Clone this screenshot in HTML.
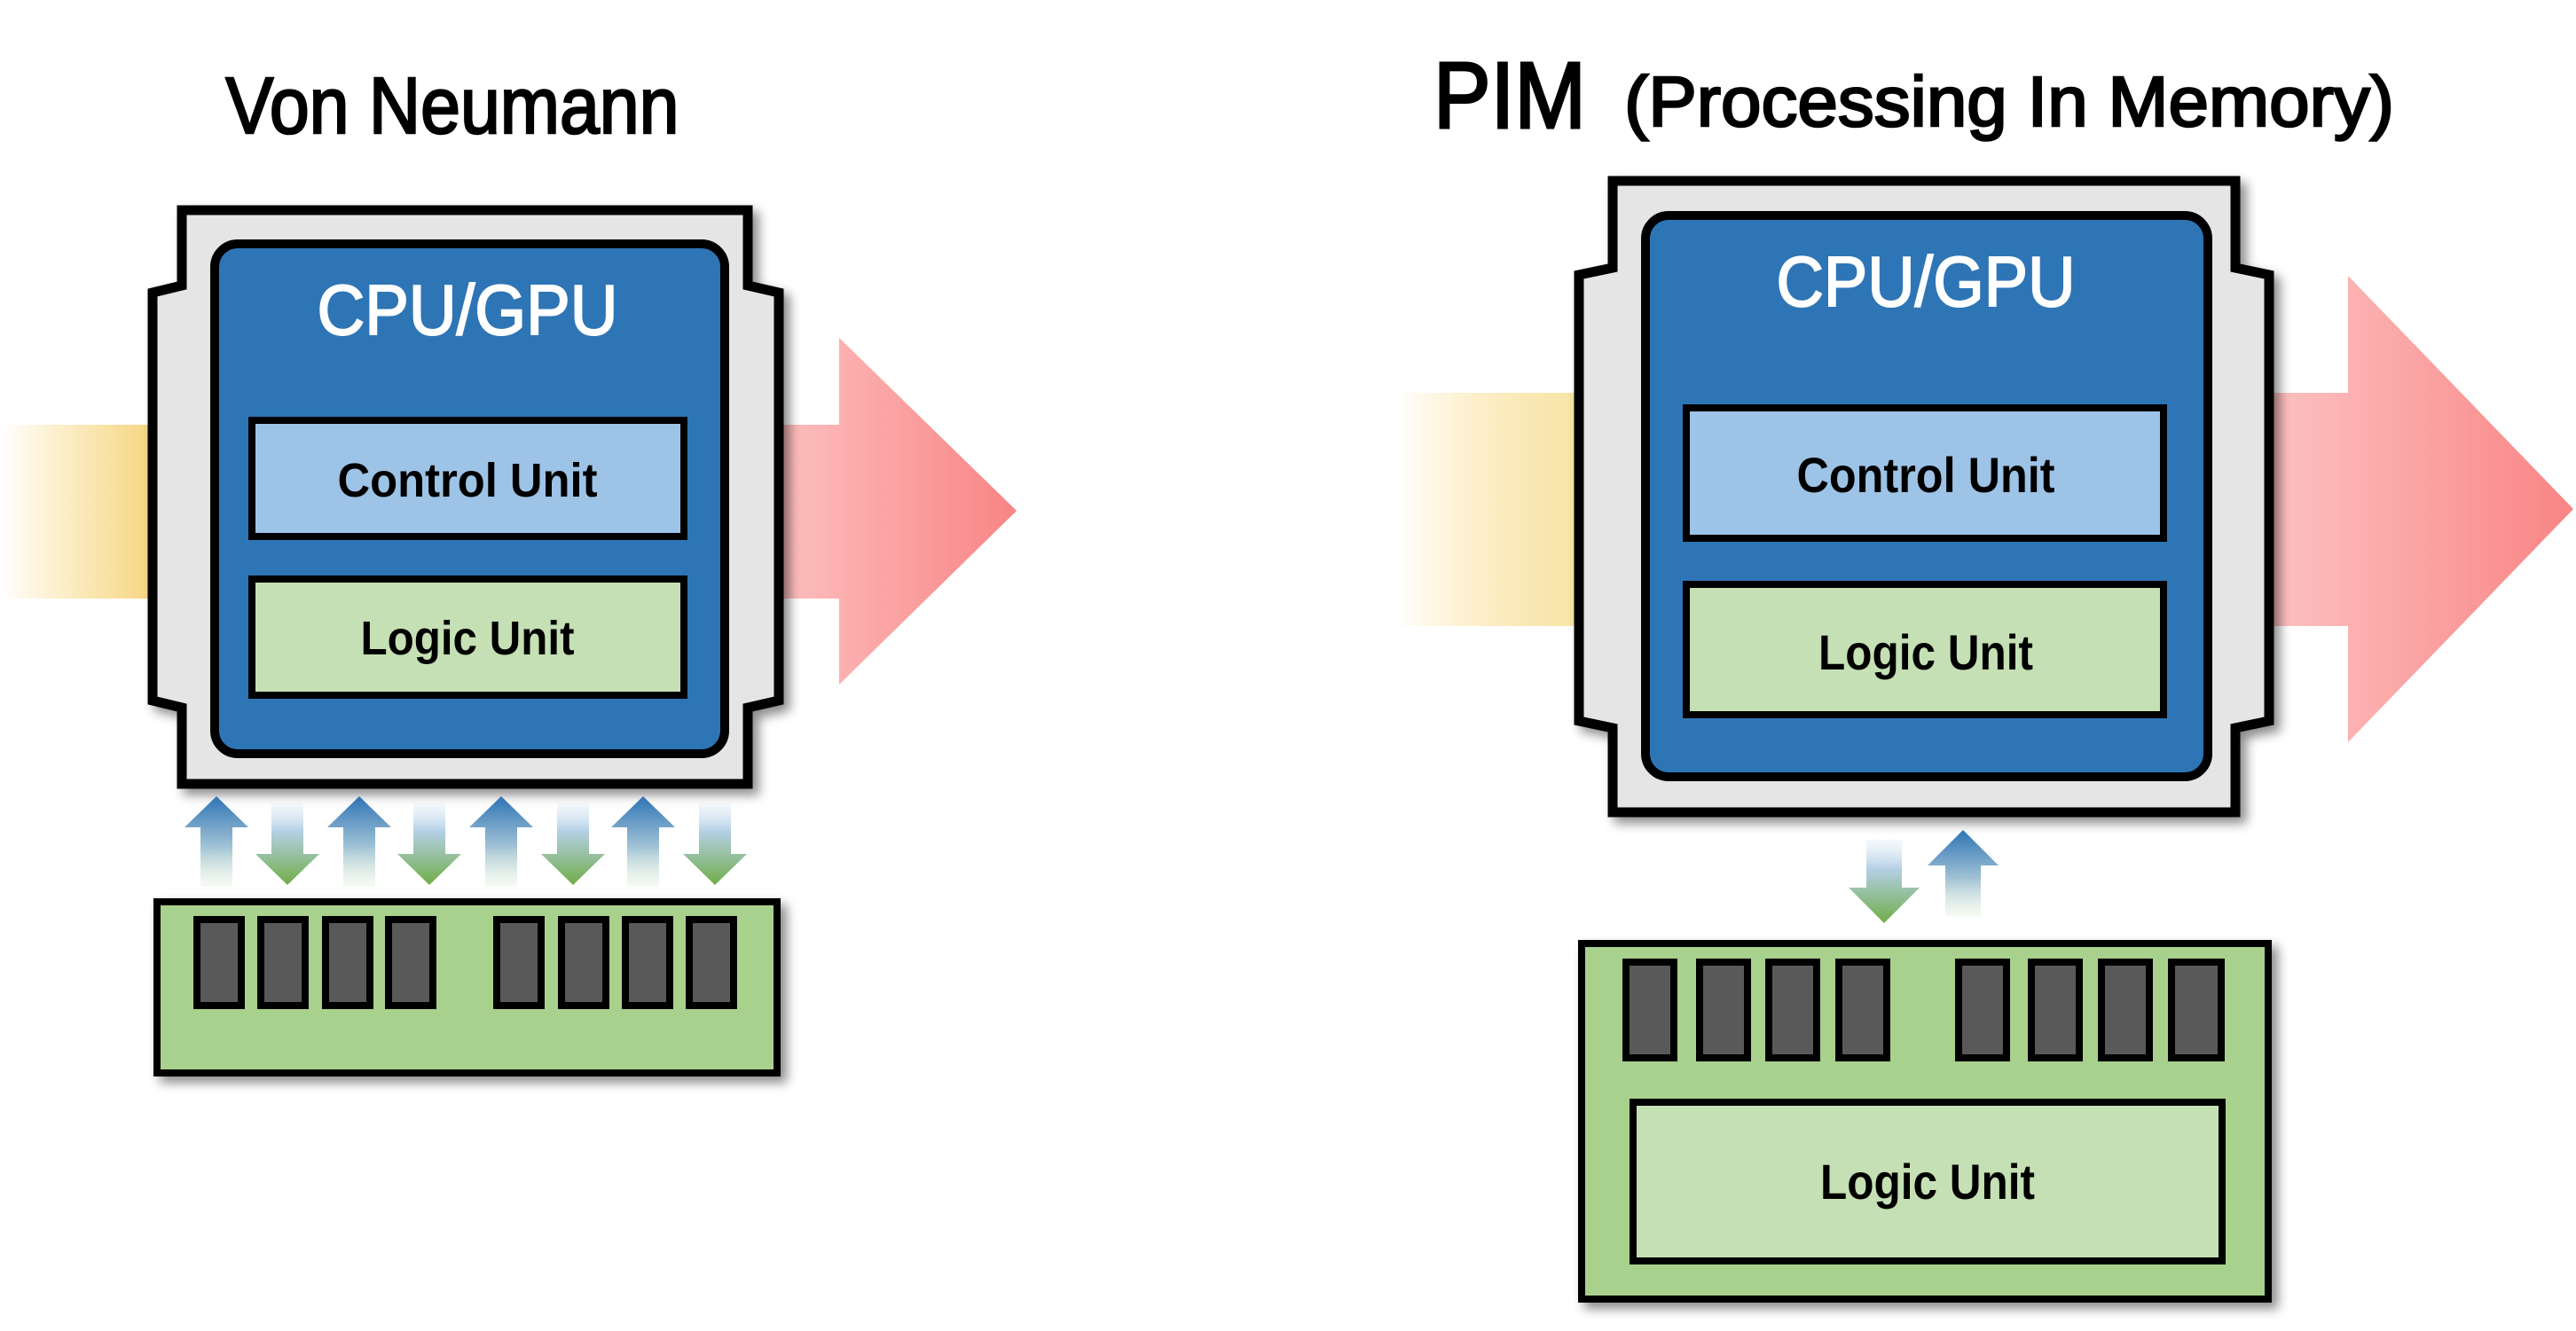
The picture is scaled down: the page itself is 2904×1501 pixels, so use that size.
<!DOCTYPE html>
<html><head><meta charset="utf-8"><style>
html,body{margin:0;padding:0;background:#fff;}
svg{display:block;}
text{font-family:"Liberation Sans",sans-serif;}
</style></head><body>
<svg width="2904" height="1501" viewBox="0 0 2904 1501" xmlns="http://www.w3.org/2000/svg">
<defs>
<linearGradient id="yl" x1="0" x2="1" y1="0" y2="0"><stop offset="0" stop-color="#f7d26e" stop-opacity="0"/><stop offset="1" stop-color="#f5d47c"/></linearGradient>
<linearGradient id="yr" x1="0" x2="1" y1="0" y2="0"><stop offset="0" stop-color="#f7d26e" stop-opacity="0"/><stop offset="1" stop-color="#f8e4a6"/></linearGradient>
<linearGradient id="rd" x1="0" x2="1" y1="0" y2="0"><stop offset="0" stop-color="#fdc3c3"/><stop offset="1" stop-color="#f98484"/></linearGradient>
<linearGradient id="up" x1="0" x2="0" y1="0" y2="1"><stop offset="0" stop-color="#2e74b5"/><stop offset="0.55" stop-color="#9fc1d5"/><stop offset="1" stop-color="#e2f0d9" stop-opacity="0.3"/></linearGradient>
<linearGradient id="dn" x1="0" x2="0" y1="0" y2="1"><stop offset="0" stop-color="#deebf7" stop-opacity="0.3"/><stop offset="0.35" stop-color="#b4d0e6"/><stop offset="1" stop-color="#70ad47"/></linearGradient>
<filter id="sh" x="-10%" y="-10%" width="125%" height="125%"><feDropShadow dx="7" dy="7" stdDeviation="6" flood-color="#000" flood-opacity="0.45"/></filter>
</defs>

<!-- LEFT -->
<text x="510" y="150" font-size="90" text-anchor="middle" textLength="511" lengthAdjust="spacingAndGlyphs" stroke="#000" stroke-width="2.5">Von Neumann</text>
<rect x="0" y="479" width="180" height="196" fill="url(#yl)"/>
<path d="M860 479 H946 V381 L1146 576 L946 772 V675 H860 Z" fill="url(#rd)"/>
<path d="M205 237 H843 V322 L878 330 V790 L843 798 V884 H205 V798 L172 790 V330 L205 322 Z" fill="#e5e5e5" stroke="#000" stroke-width="11" stroke-linejoin="miter" filter="url(#sh)"/>
<rect x="242" y="275" width="575" height="575" rx="26" fill="#2e75b6" stroke="#000" stroke-width="10"/>
<text x="527" y="377" font-size="80" fill="#fff" stroke="#fff" stroke-width="2" text-anchor="middle" textLength="339" lengthAdjust="spacingAndGlyphs">CPU/GPU</text>
<rect x="284" y="474" width="487" height="131" fill="#9dc3e6" stroke="#000" stroke-width="8"/>
<text x="527" y="560" font-size="54" font-weight="bold" text-anchor="middle" textLength="293" lengthAdjust="spacingAndGlyphs">Control Unit</text>
<rect x="284" y="653" width="487" height="131" fill="#c5e0b4" stroke="#000" stroke-width="8"/>
<text x="527" y="738" font-size="54" font-weight="bold" text-anchor="middle" textLength="241" lengthAdjust="spacingAndGlyphs">Logic Unit</text>
<g fill="url(#up)">
<path d="M244 898 L280 933 H262 V1000 H226 V933 H208 Z"/>
<path d="M405 898 L441 933 H423 V1000 H387 V933 H369 Z"/>
<path d="M565 898 L601 933 H583 V1000 H547 V933 H529 Z"/>
<path d="M725 898 L761 933 H743 V1000 H707 V933 H689 Z"/>
</g>
<g fill="url(#dn)">
<path d="M306 905 H342 V963 H360 L324 998 L288 963 H306 Z"/>
<path d="M466 905 H502 V963 H520 L484 998 L448 963 H466 Z"/>
<path d="M628 905 H664 V963 H682 L646 998 L610 963 H628 Z"/>
<path d="M788 905 H824 V963 H842 L806 998 L770 963 H788 Z"/>
</g>
<rect x="177" y="1017" width="699" height="193" fill="#a9d18e" stroke="#000" stroke-width="8" filter="url(#sh)"/>
<g fill="#595959" stroke="#000" stroke-width="8">
<rect x="222" y="1037" width="50" height="97"/><rect x="294" y="1037" width="50" height="97"/><rect x="367" y="1037" width="50" height="97"/><rect x="438" y="1037" width="50" height="97"/>
<rect x="560" y="1037" width="50" height="97"/><rect x="633" y="1037" width="50" height="97"/><rect x="705" y="1037" width="50" height="97"/><rect x="777" y="1037" width="50" height="97"/>
</g>

<!-- RIGHT -->
<text x="1616" y="144" font-size="106" textLength="172" lengthAdjust="spacingAndGlyphs" stroke="#000" stroke-width="3">PIM</text>
<text x="1831" y="142" font-size="80" textLength="868" lengthAdjust="spacingAndGlyphs" stroke="#000" stroke-width="2.5">(Processing In Memory)</text>
<rect x="1572" y="443" width="215" height="263" fill="url(#yr)"/>
<path d="M2550 443 H2647 V311 L2901 574 L2647 837 V706 H2550 Z" fill="url(#rd)"/>
<path d="M1818 204 H2520 V302 L2558 310 V813 L2520 821 V916 H1818 V821 L1780 813 V310 L1818 302 Z" fill="#e5e5e5" stroke="#000" stroke-width="11" filter="url(#sh)"/>
<rect x="1855" y="243" width="634" height="633" rx="26" fill="#2e75b6" stroke="#000" stroke-width="10"/>
<text x="2171" y="345" font-size="80" fill="#fff" stroke="#fff" stroke-width="2" text-anchor="middle" textLength="337" lengthAdjust="spacingAndGlyphs">CPU/GPU</text>
<rect x="1901" y="460" width="538" height="147" fill="#9dc3e6" stroke="#000" stroke-width="8"/>
<text x="2171" y="555" font-size="56" font-weight="bold" text-anchor="middle" textLength="291" lengthAdjust="spacingAndGlyphs">Control Unit</text>
<rect x="1901" y="659" width="538" height="147" fill="#c5e0b4" stroke="#000" stroke-width="8"/>
<text x="2171" y="755" font-size="56" font-weight="bold" text-anchor="middle" textLength="242" lengthAdjust="spacingAndGlyphs">Logic Unit</text>
<path d="M2104 947 H2144 V1001 H2164 L2124 1041 L2084 1001 H2104 Z" fill="url(#dn)"/>
<path d="M2213 936 L2253 976 H2233 V1034 H2193 V976 H2173 Z" fill="url(#up)"/>
<rect x="1783" y="1064" width="774" height="401" fill="#a9d18e" stroke="#000" stroke-width="8" filter="url(#sh)"/>
<g fill="#595959" stroke="#000" stroke-width="8">
<rect x="1833" y="1085" width="54" height="108"/><rect x="1916" y="1085" width="54" height="108"/><rect x="1994" y="1085" width="54" height="108"/><rect x="2073" y="1085" width="54" height="108"/>
<rect x="2208" y="1085" width="54" height="108"/><rect x="2290" y="1085" width="54" height="108"/><rect x="2369" y="1085" width="54" height="108"/><rect x="2448" y="1085" width="56" height="108"/>
</g>
<rect x="1841" y="1243" width="664" height="179" fill="#c5e0b4" stroke="#000" stroke-width="8"/>
<text x="2173" y="1352" font-size="56" font-weight="bold" text-anchor="middle" textLength="242" lengthAdjust="spacingAndGlyphs">Logic Unit</text>
</svg>
</body></html>
